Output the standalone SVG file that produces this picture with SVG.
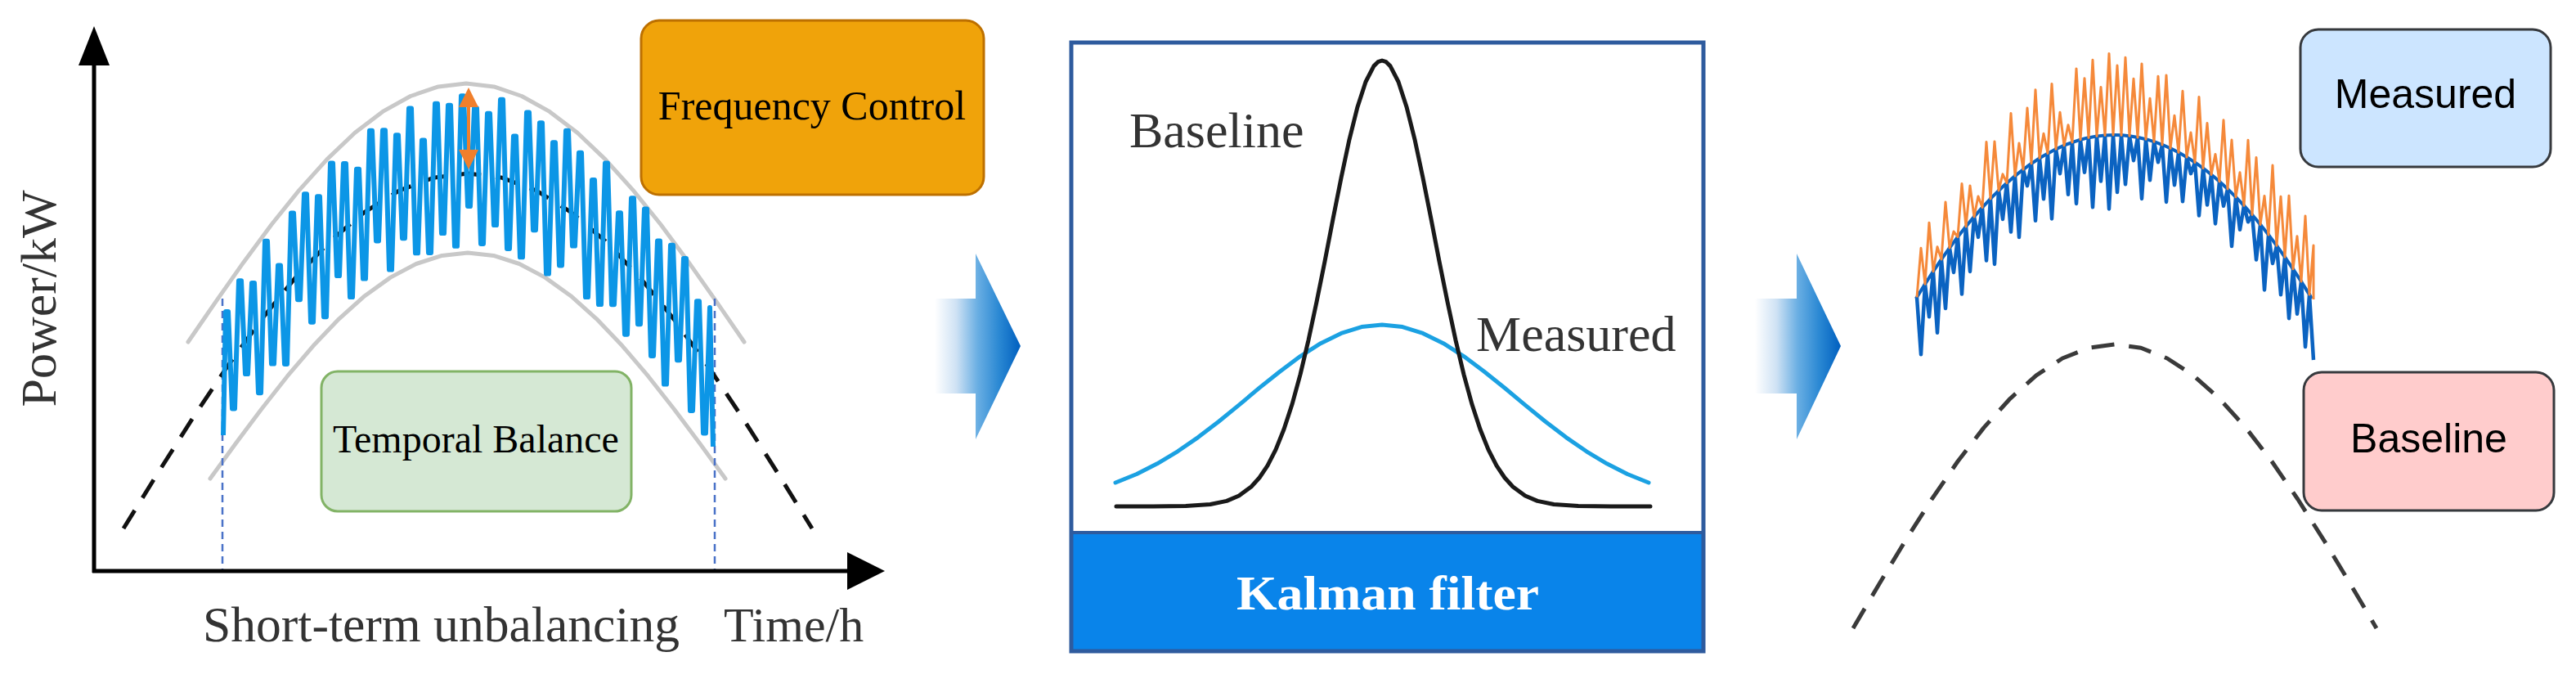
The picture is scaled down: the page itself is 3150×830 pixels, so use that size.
<svg xmlns="http://www.w3.org/2000/svg" width="3150" height="830" viewBox="0 0 3150 830">
<defs>
<style>
.serif{font-family:"Liberation Serif","Times New Roman",serif;}
.sans{font-family:"Liberation Sans",Arial,sans-serif;}
.gray{fill:none;stroke:#c8c8c8;stroke-width:5;stroke-linejoin:round;stroke-linecap:round;}
.dash{fill:none;stroke-width:5;stroke-linejoin:round;}
.axis{stroke:#000;stroke-width:5;fill:none;}
.vdash{stroke:#4a72c8;stroke-width:2.5;stroke-dasharray:9 6;fill:none;}
.label{fill:#333;}
</style>
<linearGradient id="arrowGrad" x1="0" y1="0" x2="1" y2="0">
<stop offset="0" stop-color="#ffffff"/>
<stop offset="0.25" stop-color="#cfe2f4"/>
<stop offset="0.5" stop-color="#69aee3"/>
<stop offset="0.75" stop-color="#2a88d3"/>
<stop offset="1" stop-color="#005fbf"/>
</linearGradient>
</defs>
<rect x="0" y="0" width="3150" height="830" fill="#ffffff"/>

<g id="left-chart">
<polyline class="gray" points="230,418 264,368.6 298,320.4 332,274.5 366,232.3 400,194.6 434,162.3 468,136.4 502,117.5 536,105.9 570,102 604,105.9 638,117.5 672,136.4 706,162.3 740,194.6 774,232.3 808,274.5 842,320.4 876,368.6 910,418"/>
<polyline class="gray" points="257,585 288.5,541.8 320,499.7 351.5,459.7 383,422.8 414.5,389.8 446,361.7 477.5,339.1 509,322.5 540.5,312.4 572,309 603.5,312.4 635,322.5 666.5,339.1 698,361.7 729.5,389.8 761,422.8 792.5,459.7 824,499.7 855.5,541.8 887,585"/>
<line class="vdash" x1="272" y1="365" x2="272" y2="697"/>
<line class="vdash" x1="874" y1="365" x2="874" y2="697"/>
<polyline class="dash" stroke="#111" stroke-dasharray="26 18" points="151,646 193.1,578.1 235.2,511.9 277.3,449 319.4,390.9 361.5,339.1 403.6,294.9 445.7,259.3 487.8,233.2 529.9,217.3 572,212 614.1,217.3 656.2,233.2 698.3,259.3 740.4,294.9 782.5,339.1 824.6,390.9 866.7,449 908.8,511.9 950.9,578.1 993,646"/>
<path fill="none" stroke="#0c96e6" stroke-width="6" stroke-linejoin="round" d="M273,532 L276,380.9 h3 L284,499.4 h3 L292,343.2 h3 L300,457 h3 L308,346.1 h3 L316,480.2 h3 L324,294.8 h3 L332,444.6 h3 L340,324.6 h3 L348,444.9 h3 L356,260.4 h3 L364,366.2 h3 L372,237.3 h3 L380,393.7 h3 L388,240.3 h3 L396,387.2 h3 L404,199.5 h3 L412,337.1 h3 L420,200 h3 L428,363.1 h3 L436,206.7 h3 L444,340.6 h3 L452,159.8 h3 L460,294.4 h3 L468,159.3 h3 L476,329.6 h3 L484,165.2 h3 L492,291.2 h3 L500,132.6 h3 L508,309.3 h3 L516,171.4 h3 L524,308.9 h3 L532,126.8 h3 L540,285.1 h3 L548,128.7 h3 L556,300.8 h3 L564,117.2 h3 L572,252 h3 L580,132.2 h3 L588,298 h3 L596,138.7 h3 L604,275.1 h3 L612,121.8 h3 L620,303.9 h3 L628,166.4 h3 L636,314.3 h3 L644,137.6 h3 L652,281.2 h3 L660,150.2 h3 L668,334.6 h3 L676,174.3 h3 L684,324.4 h3 L692,159.8 h3 L700,300.6 h3 L708,186.7 h3 L716,363.1 h3 L724,220 h3 L732,372.1 h3 L740,199.5 h3 L748,372.2 h3 L756,260.3 h3 L764,408.7 h3 L772,242.3 h3 L780,396.2 h3 L788,255.4 h3 L796,434.9 h3 L804,294.6 h3 L812,469.6 h3 L820,299.8 h3 L828,440.2 h3 L836,316.1 h3 L844,502 h3 L852,368.2 h3 L860,529.4 h3 L868,375.9 L872,546"/>
<g id="freq-arrow" fill="#f07f2c" stroke="#f07f2c">
<line x1="573" y1="126" x2="573" y2="188" stroke-width="4"/>
<polygon points="573,107 561,131 585,131" stroke="none"/>
<polygon points="573,207 561,183 585,183" stroke="none"/>
</g>
<line class="axis" x1="115" y1="76" x2="115" y2="700"/>
<polygon points="115,32 96,80 134,80" fill="#000"/>
<line class="axis" x1="113" y1="698" x2="1040" y2="698"/>
<polygon points="1082,698 1036,675 1036,721" fill="#000"/>
<text class="serif label" x="68" y="365" font-size="62" text-anchor="middle" transform="rotate(-90 68 365)">Power/kW</text>
<text class="serif label" x="248" y="784" font-size="62" textLength="583" lengthAdjust="spacingAndGlyphs">Short-term unbalancing</text>
<text class="serif label" x="885" y="784" font-size="60">Time/h</text>
</g>

<g id="node-frequency-control">
<rect x="784" y="25" width="419" height="213" rx="22" fill="#f0a30a" stroke="#bd7000" stroke-width="3"/>
<text class="serif" x="993" y="146" font-size="50" text-anchor="middle" fill="#000">Frequency Control</text>
</g>

<g id="node-temporal-balance">
<rect x="393" y="454" width="379" height="171" rx="20" fill="#d5e8d4" stroke="#82b366" stroke-width="3"/>
<text class="serif" x="582" y="553" font-size="48" text-anchor="middle" fill="#000">Temporal Balance</text>
</g>

<g id="connectors">
<path d="M1143,365 H1193 V310 L1248,423 L1193,537 V481 H1143 Z" fill="url(#arrowGrad)"/>
<path d="M2146,365 H2197 V310 L2251,423 L2197,537 V481 H2146 Z" fill="url(#arrowGrad)"/>
</g>

<g id="node-kalman">
<rect x="1310" y="651" width="773" height="145" fill="#0984ea"/>
<rect x="1310" y="52" width="773" height="744" fill="none" stroke="#2e5b9e" stroke-width="5"/>
<line x1="1310" y1="651" x2="2083" y2="651" stroke="#2e5b9e" stroke-width="4"/>
<polyline fill="none" stroke="#1ba1e2" stroke-width="5" stroke-linejoin="round" stroke-linecap="round" points="1364,590 1390,579.5 1415,566.8 1440,551.8 1465,534.6 1490,515.5 1515,495.1 1540,474.2 1565,454.2 1590,435.6 1615,419.7 1640,407.4 1665,399.6 1690,397 1715,399.6 1740,407.4 1765,419.7 1790,435.6 1815,454.2 1840,474.2 1865,495.1 1890,515.5 1915,534.6 1940,551.8 1965,566.8 1990,579.5 2016,590"/>
<polyline fill="none" stroke="#1a1a1a" stroke-width="5" stroke-linejoin="round" stroke-linecap="round" points="1365,619 1410,619 1450,618.5 1480,616.5 1500,612.4 1515,606 1530,595 1540,584 1550,569.1 1560,549.6 1570,524.8 1580,494.3 1590,457.8 1600,415.8 1610,369.1 1620,319.4 1630,267.8 1640,217.4 1650,170.6 1660,130.7 1670,100 1680,80.6 1685,75.7 1690,74 1695,75.7 1700,80.6 1710,100 1720,130.7 1730,170.6 1740,217.4 1750,267.8 1760,319.4 1770,369.1 1780,415.8 1790,457.8 1800,494.3 1810,524.8 1820,549.6 1830,569.1 1840,584 1850,595 1865,606 1880,612.4 1900,616.5 1930,618.5 1970,619 2018,619"/>
<text class="serif label" x="1381" y="180" font-size="62">Baseline</text>
<text class="serif label" x="1805" y="429" font-size="62">Measured</text>
<text class="serif" x="1697" y="745" font-size="60" font-weight="bold" fill="#ffffff" text-anchor="middle" textLength="370" lengthAdjust="spacingAndGlyphs">Kalman filter</text>
</g>

<g id="right-chart">
<polyline class="dash" stroke="#3a3a3a" stroke-dasharray="28 18" points="2266,768 2298,713.7 2330,660.8 2362,610.5 2394,564 2426,522.6 2458,487.3 2490,458.8 2522,438 2554,425.3 2586,421 2618,425.3 2650,438 2682,458.8 2714,487.3 2746,522.6 2778,564 2810,610.5 2842,660.8 2874,713.7 2906,768"/>
<polyline fill="none" stroke="#0b63c1" stroke-width="4.5" stroke-linejoin="round" points="2344,363.3 2349,433.3 2354,347.2 2359,387.2 2364,331.8 2369,406.8 2374,317 2379,377 2384,303 2389,333 2394,289.6 2399,359.6 2404,276.9 2409,331.9 2414,264.9 2419,289.9 2424,253.5 2429,318.5 2434,242.9 2439,322.9 2444,232.9 2449,267.9 2454,223.6 2459,283.6 2464,215 2469,290 2474,207.1 2479,227.1 2484,199.8 2489,269.8 2494,193.3 2499,243.3 2504,187.4 2509,267.4 2514,182.2 2519,212.2 2524,177.7 2529,237.7 2534,173.9 2539,248.9 2544,170.7 2549,210.7 2554,168.3 2559,253.3 2564,166.5 2569,221.5 2574,165.4 2579,255.4 2584,165 2589,235 2594,165.3 2599,225.3 2604,166.2 2609,196.2 2614,167.9 2619,242.9 2624,170.2 2629,220.2 2634,173.2 2639,198.2 2644,176.9 2649,246.9 2654,181.3 2659,226.3 2664,186.3 2669,246.3 2674,192.1 2679,212.1 2684,198.5 2689,263.5 2694,205.6 2699,250.6 2704,213.4 2709,273.4 2714,221.8 2719,251.8 2724,231 2729,301 2734,240.8 2739,280.8 2744,251.3 2749,271.3 2754,262.5 2759,317.5 2764,274.4 2769,354.4 2774,287 2779,322 2784,300.2 2789,360.2 2794,314.2 2799,389.2 2804,328.8 2809,383.8 2814,344.1 2819,424.1 2824,360.1 2829,440"/>
<path d="M2343,365 Q2585,-35 2827,365" fill="none" stroke="#0b63c1" stroke-width="4"/>
<polyline fill="none" stroke="#f5893a" stroke-width="3" stroke-linejoin="round" points="2344,363.3 2349,303.3 2354,347.2 2359,272.2 2364,331.8 2369,301.8 2374,317 2379,247 2384,303 2389,283 2394,289.6 2399,224.6 2404,276.9 2409,226.9 2414,264.9 2419,239.9 2424,253.5 2429,173.5 2434,242.9 2439,172.9 2444,232.9 2449,212.9 2454,223.6 2459,138.6 2464,215 2469,175 2474,207.1 2479,132.1 2484,199.8 2489,109.8 2494,193.3 2499,163.3 2504,187.4 2509,102.4 2514,182.2 2519,137.2 2524,177.7 2529,152.7 2534,173.9 2539,83.9 2544,170.7 2549,95.7 2554,168.3 2559,73.3 2564,166.5 2569,106.5 2574,165.4 2579,65.4 2584,165 2589,80 2594,165.3 2599,70.3 2604,166.2 2609,96.2 2614,167.9 2619,77.9 2624,170.2 2629,120.2 2634,173.2 2639,93.2 2644,176.9 2649,91.9 2654,181.3 2659,141.3 2664,186.3 2669,111.3 2674,192.1 2679,162.1 2684,198.5 2689,118.5 2694,205.6 2699,150.6 2704,213.4 2709,188.4 2714,221.8 2719,146.8 2724,231 2729,171 2734,240.8 2739,210.8 2744,251.3 2749,171.3 2754,262.5 2759,192.5 2764,274.4 2769,239.4 2774,287 2779,202 2784,300.2 2789,240.2 2794,314.2 2799,239.2 2804,328.8 2809,288.8 2814,344.1 2819,264.1 2824,360.1 2829,300.1 2829,366"/>
</g>

<g id="node-measured">
<rect x="2813" y="36" width="306" height="168" rx="22" fill="#cce5ff" stroke="#36393d" stroke-width="3"/>
<text class="sans" x="2966" y="132" font-size="50" text-anchor="middle" fill="#000">Measured</text>
</g>

<g id="node-baseline">
<rect x="2817" y="455" width="306" height="169" rx="22" fill="#ffcccc" stroke="#36393d" stroke-width="3"/>
<text class="sans" x="2970" y="553" font-size="50" text-anchor="middle" fill="#000">Baseline</text>
</g>
</svg>
